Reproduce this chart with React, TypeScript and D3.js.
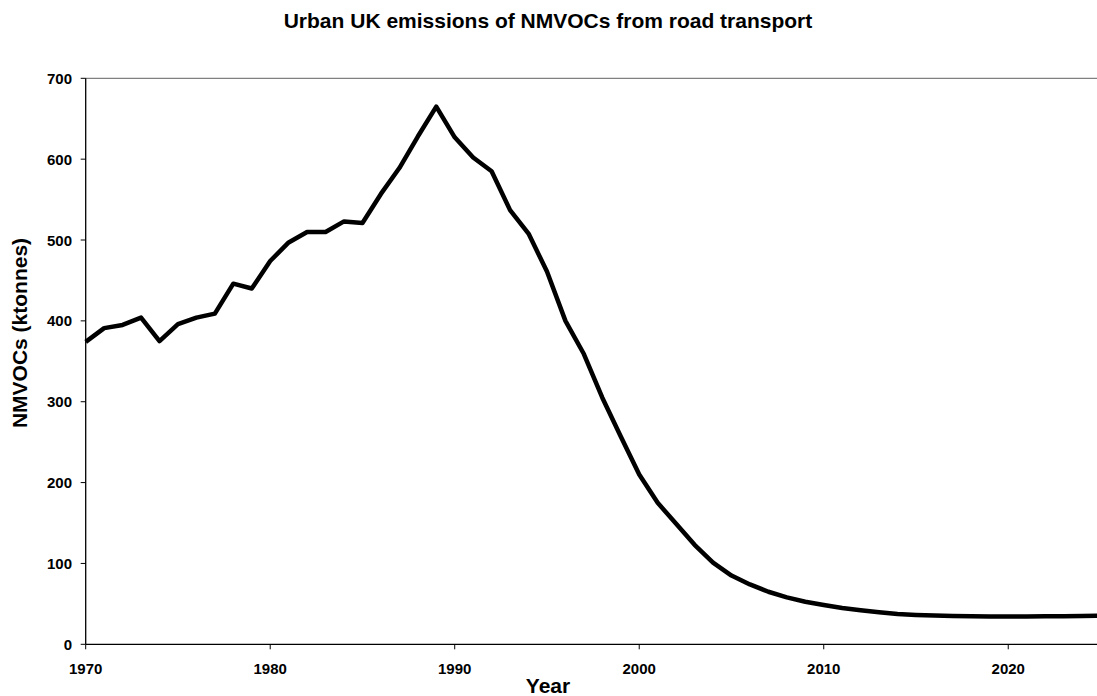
import React from "react";
import * as d3 from "d3";

const years: number[] = [];
for (let y = 1970; y <= 2025; y++) years.push(y);

const emissions: number[] = [
  374, 391, 395, 404, 375, 396, 404, 409, 446, 440,
  474, 497, 510, 510, 523, 521, 557, 589, 628, 665,
  627, 602, 585, 537, 508, 461, 400, 359, 305, 257,
  210, 175, 149, 123, 101, 85, 74, 65, 58, 52.7,
  48.6, 45, 42, 39.5, 37.5, 36.3, 35.6, 35.1, 34.7, 34.5,
  34.5, 34.5, 34.6, 34.8, 35, 35.2,
];

const xTicks = [1970, 1980, 1990, 2000, 2010, 2020];
const yTicks = [0, 100, 200, 300, 400, 500, 600, 700];

const title = "Urban UK emissions of NMVOCs from road transport";
const xLabel = "Year";
const yLabel = "NMVOCs (ktonnes)";

export default function App() {
  const W = 1097, H = 696;
  const x = d3.scaleLinear().domain([1970, 2025]).range([85.7, 1100.5]);
  const y = d3.scaleLinear().domain([0, 700]).range([644.3, 78.3]);
  const data = years.map((yr, i) => ({ yr, v: emissions[i] }));
  const line = d3.line<{ yr: number; v: number }>().x(d => x(d.yr)).y(d => y(d.v));
  const font = "'Liberation Sans', Arial, sans-serif";
  return (
    <svg width={W} height={H} style={{ position: "absolute", left: 0, top: 0, background: "#fff" }} fontFamily={font}>
      <rect x={0} y={0} width={W} height={H} fill="#fff" />
      <text x={548} y={28} textAnchor="middle" fontWeight="bold" fontSize={21}>{title}</text>
      {/* top border */}
      <line x1={x(1970)} x2={W} y1={y(700)} y2={y(700)} stroke="#808080" strokeWidth={1.2} />
      {/* y axis */}
      <line x1={x(1970)} x2={x(1970)} y1={y(700)} y2={y(0)} stroke="#000" strokeWidth={1.3} />
      {yTicks.map(t => (
        <g key={t}>
          <line x1={x(1970) - 5} x2={x(1970)} y1={y(t)} y2={y(t)} stroke="#000" strokeWidth={1} />
          <text x={72} y={y(t) + 5.5} textAnchor="end" fontWeight="bold" fontSize={15}>{t}</text>
        </g>
      ))}
      {/* x axis */}
      <line x1={x(1970)} x2={W} y1={y(0)} y2={y(0)} stroke="#000" strokeWidth={1.3} />
      {xTicks.map(t => (
        <g key={t}>
          <line x1={x(t)} x2={x(t)} y1={y(0)} y2={y(0) + 5} stroke="#000" strokeWidth={1} />
          <text x={x(t)} y={674} textAnchor="middle" fontWeight="bold" fontSize={15}>{t}</text>
        </g>
      ))}
      <path d={line(data) || ""} fill="none" stroke="#000" strokeWidth={4.5} strokeLinejoin="round" />
      <text x={548} y={693} textAnchor="middle" fontWeight="bold" fontSize={21}>{xLabel}</text>
      <text transform={`translate(27,${333}) rotate(-90)`} textAnchor="middle" fontWeight="bold" fontSize={21}>{yLabel}</text>
    </svg>
  );
}
